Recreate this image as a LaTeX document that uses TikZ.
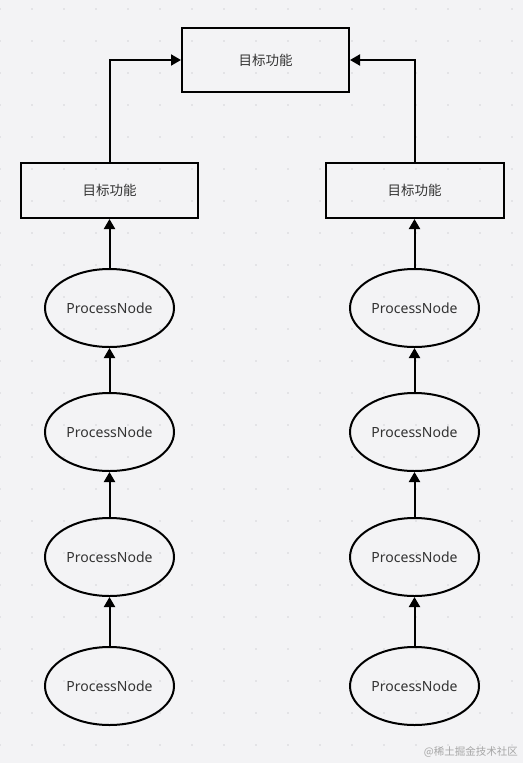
\documentclass[tikz,border=0pt]{standalone}
\usepackage{fontspec}
\setmainfont{Noto Sans}
\newfontfamily\cjk{Noto Sans CJK SC}
\usetikzlibrary{arrows.meta,shapes.geometric}
\definecolor{bg}{HTML}{F3F3F5}
\definecolor{txt}{HTML}{333333}
\definecolor{dotc}{HTML}{D4D4D8}
\begin{document}
\begin{tikzpicture}[x=1pt,y=-1pt,
  boxn/.style={draw=black,line width=2pt,minimum width=#1,minimum height=55pt,inner sep=0pt,text=txt,font=\cjk\fontsize{13.5}{15}\selectfont},
  proc/.style={ellipse,draw=black,line width=2pt,minimum width=129pt,minimum height=78pt,inner sep=0pt,text=txt,font=\fontsize{14}{16}\selectfont},
  conn/.style={draw=black,line width=2pt,-{Triangle[length=10pt,width=11pt]}}]
\useasboundingbox (0,0) rectangle (523,763);
\fill[bg] (0,0) rectangle (523,763);
\foreach \i in {0,...,16}{\foreach \j in {0,...,23}{\fill[dotc] (\i*32,9+\j*32) circle (0.9pt);}}
\node[boxn=167pt,minimum height=64pt] (top) at (265.5,60) {目标功能};
\node[boxn=177pt] (lb) at (109.5,190.5) {目标功能};
\node[boxn=178pt] (rb) at (414.5,190.5) {目标功能};
\foreach \s/\x in {l/109.5,r/414.5}{
  \node[proc] (\s1) at (\x,308) {ProcessNode};
  \node[proc] (\s2) at (\x,432) {ProcessNode};
  \node[proc] (\s3) at (\x,557) {ProcessNode};
  \node[proc] (\s4) at (\x,686) {ProcessNode};
  \draw[conn] (\s4) -- (\s3);
  \draw[conn] (\s3) -- (\s2);
  \draw[conn] (\s2) -- (\s1);
  \draw[conn] (\s1) -- (\s b);
}
\draw[conn] (lb.north) |- (top.west);
\draw[conn] (rb.north) |- (top.east);
\node[anchor=south east,text=black!35,font=\cjk\fontsize{10.5}{12}\selectfont,inner sep=0pt] (wm) at (518,758) {@稀土掘金技术社区};
\end{tikzpicture}
\end{document}
